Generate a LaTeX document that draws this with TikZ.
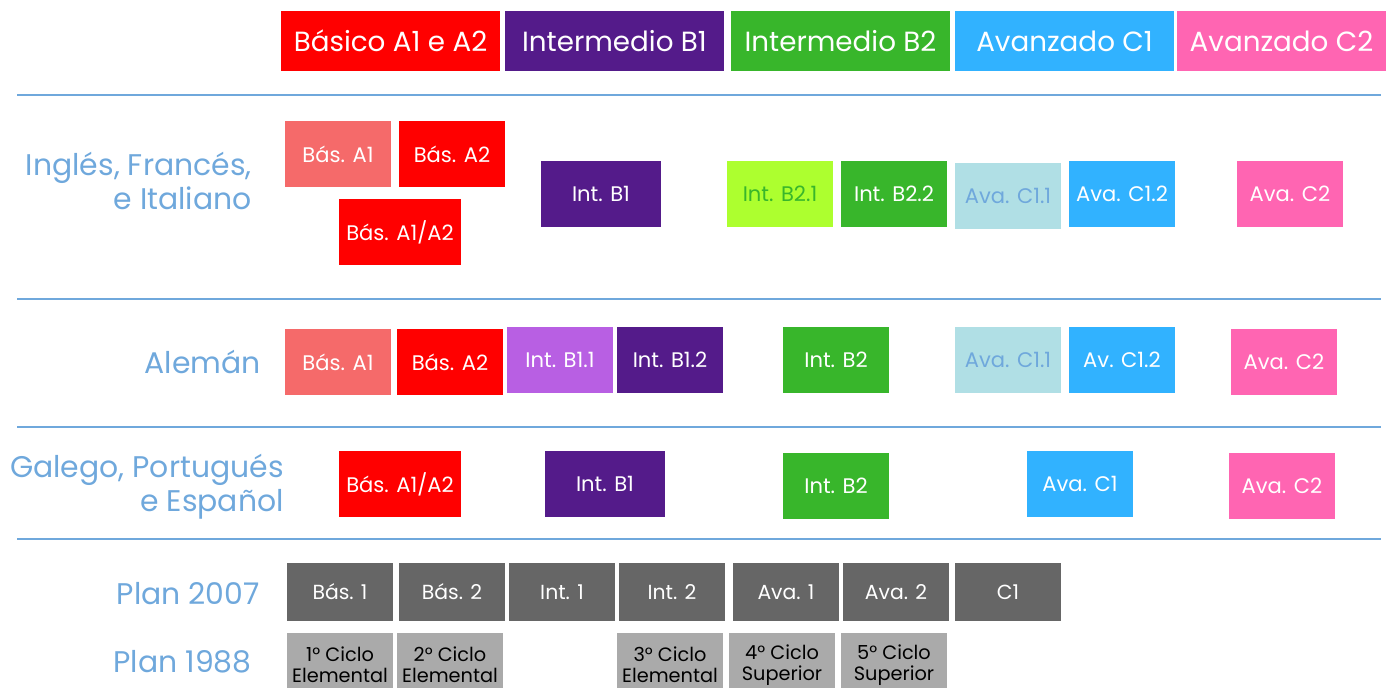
\documentclass[tikz,border=0pt]{standalone}
\usepackage{fontspec}
\setmainfont{Poppins}
\definecolor{rowline}{HTML}{6FA8DC}
\definecolor{basred}{HTML}{FF0000}
\definecolor{bassalmon}{HTML}{F56A6A}
\definecolor{intpurple}{HTML}{541B8A}
\definecolor{intlilac}{HTML}{B85FE3}
\definecolor{intgreen}{HTML}{38B62B}
\definecolor{intlime}{HTML}{ADFF2F}
\definecolor{avablue}{HTML}{31B2FF}
\definecolor{avapale}{HTML}{B0DFE5}
\definecolor{avapink}{HTML}{FF65B2}
\definecolor{plandark}{HTML}{666666}
\definecolor{planlight}{HTML}{AAAAAA}
\tikzset{
    level/.style={inner sep=0pt, minimum width=2.12cm, minimum height=1.32cm, text=white, font=\fontsize{12}{14}\selectfont},
    header/.style={inner sep=0pt, minimum width=4.38cm, minimum height=1.2cm, text=white, font=\fontsize{15.8}{19}\selectfont},
    language/.style={anchor=east, align=right, inner sep=0pt, text=rowline, font=\fontsize{17}{19.2}\selectfont},
    plan/.style={inner sep=0pt, minimum width=2.12cm, minimum height=1.16cm, fill=plandark, text=white, font=\fontsize{11.6}{13}\selectfont},
    cycle/.style={inner sep=0pt, minimum width=2.12cm, minimum height=1.28cm, fill=planlight, text=black, align=center, font=\fontsize{11}{12}\selectfont},
}
\begin{document}
\begin{tikzpicture}[x=0.02cm, y=-0.02cm]
    \useasboundingbox (0, 0) rectangle (1386, 688);
    % course levels
    \node[header, fill=basred] (hbas) at (390.5, 41) {Básico A1 e A2};
    \node[header, fill=intpurple] (hintb1) at (614.5, 41) {Intermedio B1};
    \node[header, fill=intgreen] (hintb2) at (840.5, 41) {Intermedio B2};
    \node[header, fill=avablue] (havac1) at (1064.5, 41.5) {Avanzado C1};
    \node[header, fill=avapink, minimum width=4.18cm] (havac2) at (1281.5, 41) {Avanzado C2};
    % separators
    \draw[rowline, line width=0.04cm] (17, 95) to (1381, 95);
    \draw[rowline, line width=0.04cm] (17, 299) to (1381, 299);
    \draw[rowline, line width=0.04cm] (17, 427) to (1381, 427);
    \draw[rowline, line width=0.04cm] (17, 539) to (1381, 539);
    % Ingles, Frances, e Italiano
    \node[language] (ingles) at (252, 181) {Inglés, Francés,\\e Italiano};
    \node[level, fill=bassalmon] (ibasa1) at (338, 154) {Bás. A1};
    \node[level, fill=basred] (ibasa2) at (452, 154) {Bás. A2};
    \node[level, fill=basred, minimum width=2.44cm] (ibasa12) at (400, 232) {Bás. A1/A2};
    \node[level, fill=intpurple, minimum width=2.4cm] (iintb1) at (601, 194) {Int. B1};
    \node[level, fill=intlime, text=intgreen] (iintb21) at (780, 194) {Int. B2.1};
    \node[level, fill=intgreen] (iintb22) at (894, 194) {Int. B2.2};
    \node[level, fill=avapale, text=rowline] (iavac11) at (1008, 196) {Ava. C1.1};
    \node[level, fill=avablue] (iavac12) at (1122, 194) {Ava. C1.2};
    \node[level, fill=avapink] (iavac2) at (1290, 194) {Ava. C2};
    % Aleman
    \node[language] (aleman) at (261, 362) {Alemán};
    \node[level, fill=bassalmon] (abasa1) at (338, 362) {Bás. A1};
    \node[level, fill=basred] (abasa2) at (450, 362) {Bás. A2};
    \node[level, fill=intlilac] (aintb11) at (560, 360) {Int. B1.1};
    \node[level, fill=intpurple] (aintb12) at (670, 360) {Int. B1.2};
    \node[level, fill=intgreen] (aintb2) at (836, 360) {Int. B2};
    \node[level, fill=avapale, text=rowline] (aavac11) at (1008, 360) {Ava. C1.1};
    \node[level, fill=avablue] (aavc12) at (1122, 360) {Av. C1.2};
    \node[level, fill=avapink] (aavac2) at (1284, 362) {Ava. C2};
    % Galego, Portugues e Espanol
    \node[language] (galego) at (284, 487) {Galego, Portugués\\e Español};
    \node[level, fill=basred, minimum width=2.44cm] (gbasa12) at (400, 484) {Bás. A1/A2};
    \node[level, fill=intpurple, minimum width=2.4cm] (gintb1) at (605, 484) {Int. B1};
    \node[level, fill=intgreen] (gintb2) at (836, 486) {Int. B2};
    \node[level, fill=avablue] (gavac1) at (1080, 484) {Ava. C1};
    \node[level, fill=avapink] (gavac2) at (1282, 486) {Ava. C2};
    % plans
    \node[language] (plan2007) at (260, 594) {Plan 2007};
    \node[plan] (pbas1) at (340, 592) {Bás. 1};
    \node[plan] (pbas2) at (452, 592) {Bás. 2};
    \node[plan] (pint1) at (562, 592) {Int. 1};
    \node[plan] (pint2) at (672, 592) {Int. 2};
    \node[plan] (pava1) at (786, 592) {Ava. 1};
    \node[plan] (pava2) at (896, 592) {Ava. 2};
    \node[plan] (pc1) at (1008, 592) {C1};
    \node[language] (plan1988) at (252, 662) {Plan 1988};
    \node[cycle] (ociclo1) at (340, 665) {1° Ciclo\\Elemental};
    \node[cycle] (ociclo2) at (450, 665) {2° Ciclo\\Elemental};
    \node[cycle] (ociclo3) at (670, 665) {3° Ciclo\\Elemental};
    \node[cycle] (ociclo4) at (782, 665) {4° Ciclo\\Superior};
    \node[cycle] (ociclo5) at (894, 665) {5° Ciclo\\Superior};
\end{tikzpicture}
\end{document}
